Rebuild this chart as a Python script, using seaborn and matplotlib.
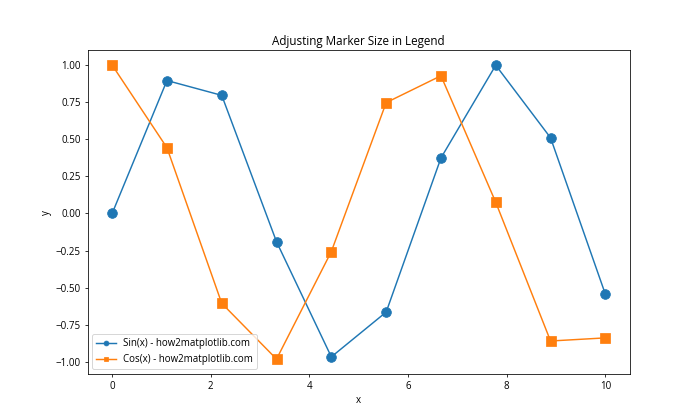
import matplotlib
matplotlib.use("Agg")
import matplotlib.pyplot as plt
import seaborn as sns
import pandas as pd

x_vals = [0.0, 1.111, 2.222, 3.333, 4.444, 5.556, 6.667, 7.778, 8.889, 10.0]
sin_vals = [0.0, 0.896, 0.796, -0.191, -0.967, -0.665, 0.374, 0.999, 0.510, -0.544]
cos_vals = [1.0, 0.443, -0.606, -0.982, -0.257, 0.747, 0.928, 0.075, -0.860, -0.839]
labels = ["Sin(x) - how2matplotlib.com", "Cos(x) - how2matplotlib.com"]

plt.rcParams['font.family'] = ['Open Sans', 'DejaVu Sans']
plt.rcParams['font.size'] = 10

fig, ax = plt.subplots(figsize=(10, 6), dpi=70)
sns.lineplot(x=x_vals, y=sin_vals, ax=ax, marker='o', markersize=10,
             color='#1f77b4', label=labels[0], markeredgecolor='#1f77b4')
sns.lineplot(x=x_vals, y=cos_vals, ax=ax, marker='s', markersize=10,
             color='#ff7f0e', label=labels[1], markeredgecolor='#ff7f0e')
ax.set_title("Adjusting Marker Size in Legend")
ax.set_xlabel("x")
ax.set_ylabel("y")
leg = ax.legend(loc='lower left')
for h in leg.legend_handles:
    h.set_markersize(5)
fig.savefig("out.png", dpi=70)
